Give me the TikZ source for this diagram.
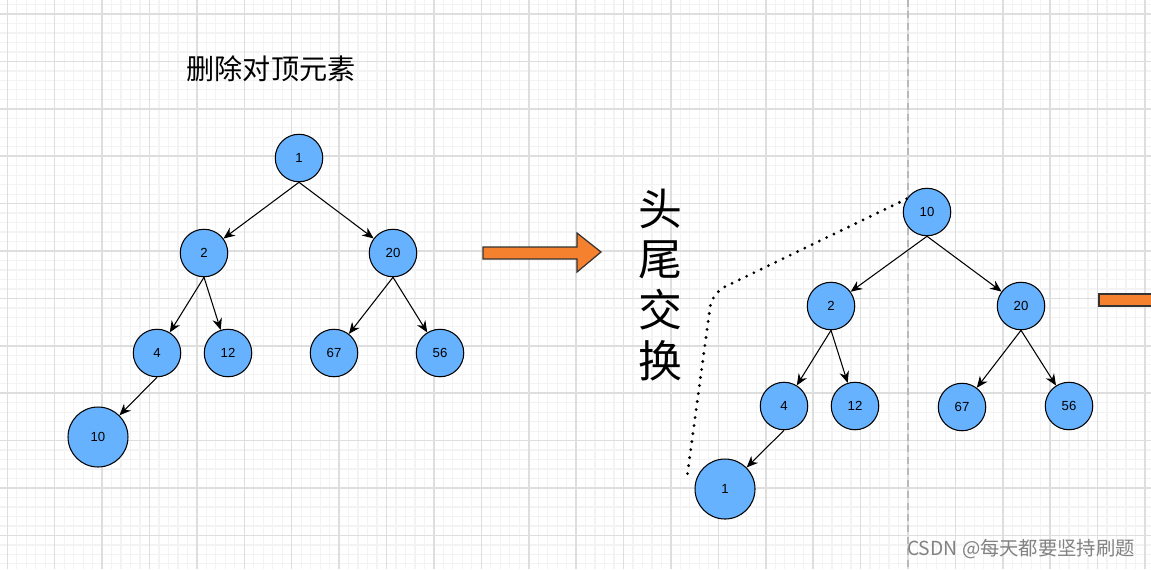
\documentclass[tikz,border=0pt]{standalone}
\usepackage{fontspec}
\setmainfont{Liberation Sans}
\newfontfamily\cjk{Noto Sans CJK SC}
\usetikzlibrary{arrows.meta}

\definecolor{nodeblue}{RGB}{102,178,255}
\definecolor{arroworange}{RGB}{245,128,45}
\definecolor{gridminor}{RGB}{243,243,243}
\definecolor{gridmajor}{RGB}{222,222,222}
\definecolor{marklight}{RGB}{130,130,130}

\begin{document}
\begin{tikzpicture}[x=0.02cm, y=-0.02cm,
    >={Stealth[length=6.5pt,width=5.5pt]},
    heapnode/.style={circle, draw=black, line width=0.6pt, fill=nodeblue,
        minimum size=0.95cm, inner sep=0pt, font=\fontsize{7.5}{9}\selectfont},
    bignode/.style={heapnode, minimum size=1.2cm},
    edge/.style={->, line width=0.6pt}]

    \useasboundingbox (0,0) rectangle (1151,569);
    \clip (0,0) rectangle (1151,569);
    \fill[white] (0,0) rectangle (1151,569);

    % grid
    \foreach \i in {0,...,121} {
        \draw[gridminor, line width=0.7pt] ({-2.18+9.48*\i},0) -- ++(0,569);
    }
    \foreach \j in {0,...,59} {
        \draw[gridminor, line width=0.7pt] (0,{4.52+9.48*\j}) -- ++(1151,0);
    }
    \foreach \i in {0,...,24} {
        \draw[gridmajor, line width=0.9pt] ({7.3+47.4*\i},0) -- ++(0,569);
    }
    \foreach \j in {0,...,11} {
        \draw[gridmajor, line width=0.9pt] (0,{14+47.4*\j}) -- ++(1151,0);
    }
    \draw[gray!55, line width=0.8pt, dash pattern=on 4pt off 2.5pt] (908,0) -- (908,569);

    \node[font=\cjk\fontsize{16}{18}\selectfont] (title) at (271,69) {删除对顶元素};

    % heap before
    \foreach \n/\x/\y in {1/299/158, 2/204/253, 20/393/253, 4/157/353, 12/228/353, 67/334/353, 56/440/353} {
        \node[heapnode] (a\n) at (\x,\y) {\n};
    }
    \node[bignode] (a10) at (98,437) {10};

    \foreach \p/\c in {1/2, 1/20, 2/4, 2/12, 20/67, 20/56, 4/10} {
        \draw[edge] (a\p.south) -- (a\c);
    }

    % block arrows
    \draw[fill=arroworange, line width=0.7pt, draw=black!80]
        (483,247) -- (577,247) -- (577,233) -- (601,252) -- (577,272) -- (577,259) -- (483,259) -- cycle;
    \draw[fill=arroworange, line width=0.7pt, draw=black!80] (1099,294) rectangle (1170,306);

    \node[font=\cjk\fontsize{25}{29}\selectfont, align=center] (swap) at (660,285) {头\\尾\\交\\换};

    % heap after
    \foreach \n/\x/\y in {10/927/212, 2/831/306, 20/1021/306, 4/784/406, 12/855/406, 67/962/407, 56/1069/406} {
        \node[heapnode] (b\n) at (\x,\y) {\n};
    }
    \node[bignode] (b1) at (725,489) {1};

    \foreach \p/\c in {10/2, 10/20, 2/4, 2/12, 20/67, 20/56, 4/1} {
        \draw[edge] (b\p.south) -- (b\c);
    }

    \coordinate (bend) at (712,293);
    \coordinate (tail) at (687,477);
    \draw[line width=1.8pt, line cap=round, dash pattern=on 0pt off 4.6pt, rounded corners=8pt]
        (b10.147) -- (bend) -- (tail);

    \node[font=\cjk\fontsize{11}{13}\selectfont, text=marklight] (mark) at (1021,549) {CSDN @每天都要坚持刷题};

\end{tikzpicture}
\end{document}
